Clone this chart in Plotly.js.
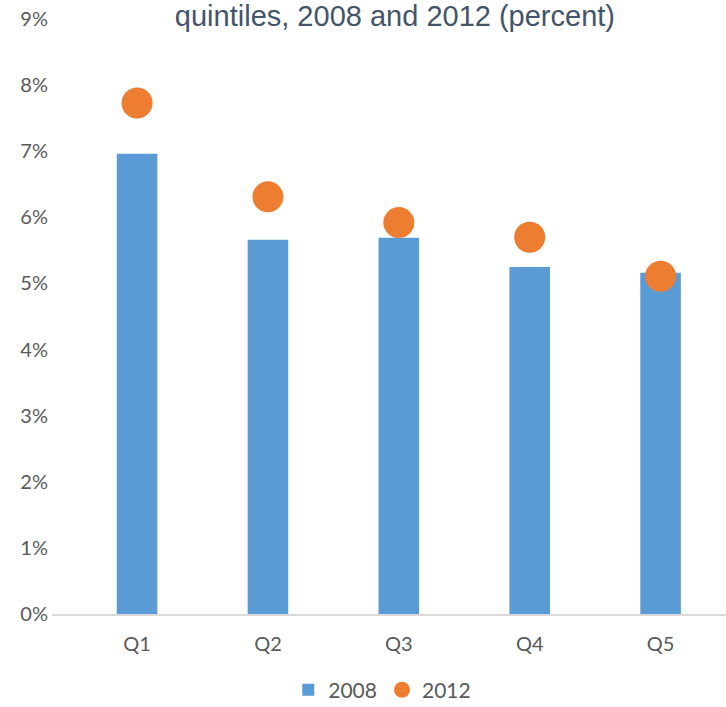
<!DOCTYPE html>
<html>
<head>
<meta charset="utf-8">
<script src="https://cdn.plot.ly/plotly-3.0.1.min.js"></script>
<style>html,body{margin:0;padding:0;background:#fff;}#chart{width:726px;height:707px;}</style>
</head>
<body>
<div id="chart"></div>
<script>
const categories = ["Q1", "Q2", "Q3", "Q4", "Q5"];
const values2008 = [6.96, 5.66, 5.69, 5.25, 5.16];
const values2012 = [7.73, 6.31, 5.92, 5.70, 5.11];
const yTickVals = [0, 1, 2, 3, 4, 5, 6, 7, 8, 9];
const yTickText = ["0%", "1%", "2%", "3%", "4%", "5%", "6%", "7%", "8%", "9%"];
const titleText = "quintiles, 2008 and 2012 (percent)";

const traces = [
  {
    type: "bar",
    name: "2008",
    x: categories,
    y: values2008,
    marker: {color: "#5B9BD5"},
    hoverinfo: "skip"
  },
  {
    type: "scatter",
    mode: "markers",
    name: "2012",
    x: categories,
    y: values2012,
    marker: {color: "#ED7D31", size: 31},
    hoverinfo: "skip"
  }
];

const layout = {
  width: 726,
  height: 707,
  margin: {l: 52, r: 0, t: 19, b: 93, autoexpand: false},
  paper_bgcolor: "#ffffff",
  plot_bgcolor: "#ffffff",
  showlegend: true,
  bargap: 0.69,
  title: {
    text: titleText,
    font: {family: "Liberation Sans, Arial, sans-serif", size: 29, color: "#44546A"},
    x: 0.544,
    xanchor: "center",
    y: 1 - 26/707,
    yanchor: "bottom",
    yref: "container"
  },
  xaxis: {
    type: "category",
    range: [-0.65, 4.5],
    showgrid: false,
    zeroline: false,
    showline: true,
    linecolor: "#D9D9D9",
    linewidth: 1.5,
    ticks: "",
    tickfont: {family: "Lato, Carlito, sans-serif", size: 20, color: "#595959"},
    ticklabelstandoff: 11
  },
  yaxis: {
    range: [0, 9],
    tickvals: yTickVals,
    ticktext: yTickText,
    showgrid: false,
    zeroline: false,
    showline: false,
    ticks: "",
    ticklabelstandoff: 3,
    tickfont: {family: "Lato, Carlito, sans-serif", size: 20, color: "#595959"}
  },
  legend: {
    orientation: "h",
    x: 0.49,
    xanchor: "center",
    y: -0.128,
    yanchor: "middle",
    font: {family: "Lato, Carlito, sans-serif", size: 21, color: "#595959"},
    itemwidth: 30,
    tracegroupgap: 0
  }
};

Plotly.newPlot("chart", traces, layout, {displayModeBar: false, staticPlot: true});
</script>
</body>
</html>
